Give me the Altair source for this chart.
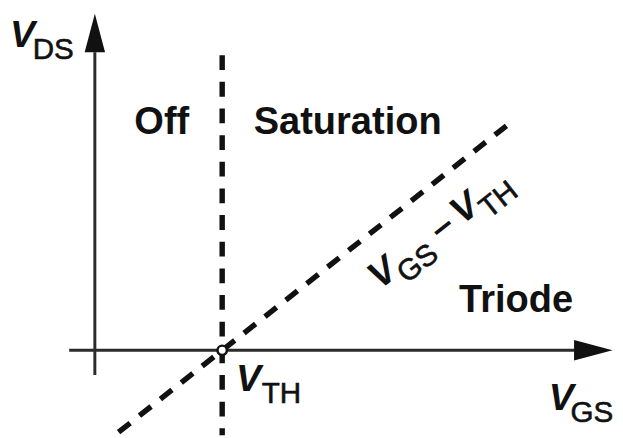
import math
import altair as alt
import pandas as pd

# ---- diagram values (origin = crossing of the V_GS / V_DS axes) ----
V_TH = 129            # threshold position on V_GS axis
SLOPE = 0.79          # V_DS = V_GS - V_TH boundary (drawn slope)
X_DOMAIN = [-88, 519]
Y_DOMAIN = [-78, 344]

axis_h = {"x": [-26], "x2": [486], "y": [0], "y2": [0]}
axis_v = {"x": [0], "x2": [0], "y": [302], "y2": [-25]}
vth_line = {"x": [V_TH], "x2": [V_TH], "y": [299], "y2": [-86]}
diag_x = [24, 417]

arrow_up = {"x": [0], "y": [321.5]}
arrow_right = {"x": [505], "y": [0]}

region_text = ["Off", "Saturation", "Triode"]
region_x = [40, 161, 369]
region_y = [219, 219, 39]

v_text = ["V", "V", "V"]
v_x = [-86, 143, 460]
v_y = [307, -41, -60]
sub_text = ["DS", "TH", "GS"]
sub_x = [-63, 169, 482]
sub_y = [295, -53, -73]

# rotated boundary label "V_GS – V_TH"
lab_origin = (289, 61)
lab_angle_deg = 38.3
lab_pieces = ["V", "GS", "–", "V", "TH"]
lab_t = [0, 25, 89, 106, 131]
lab_h = [0, 12, 0, 0, 12]
lab_kind = ["v", "sub", "dash", "v", "sub"]

FONT = "Liberation Sans"

diag_y = [SLOPE * (x - V_TH) for x in diag_x]

xs = alt.Scale(domain=X_DOMAIN, nice=False, zero=False)
ys = alt.Scale(domain=Y_DOMAIN, nice=False, zero=False)
X = lambda f: alt.X(f, type="quantitative", scale=xs, axis=None)
Y = lambda f: alt.Y(f, type="quantitative", scale=ys, axis=None)


def rule(d, dash=None, width=3, color="#2a2a2a"):
    kw = dict(strokeWidth=width, color=color, strokeCap="butt", clip=False)
    if dash:
        kw["strokeDash"] = dash
    return alt.Chart(pd.DataFrame(d)).mark_rule(**kw).encode(
        x=X("x"), x2="x2", y=Y("y"), y2="y2")


layers = []
layers.append(rule(axis_h))
layers.append(rule(axis_v))
layers.append(rule(vth_line, dash=[15, 12], width=5.5, color="#111"))
layers.append(rule({"x": [diag_x[0]], "x2": [diag_x[1]], "y": [diag_y[0]], "y2": [diag_y[1]]},
                   dash=[15, 12], width=5.5, color="#111"))

ARROW_UP = "M0,-1L0.53,1L-0.53,1Z"
ARROW_RIGHT = "M1,0L-1,-0.53L-1,0.53Z"
for d, shp in [(arrow_up, ARROW_UP), (arrow_right, ARROW_RIGHT)]:
    layers.append(alt.Chart(pd.DataFrame(d)).mark_point(
        shape=shp, size=1521, filled=True, color="#111", opacity=1, clip=False
    ).encode(x=X("x"), y=Y("y")))

layers.append(alt.Chart(pd.DataFrame({"x": [V_TH], "y": [0]})).mark_point(
    shape="circle", size=90, filled=True, fill="white", stroke="#111",
    strokeWidth=2.5, opacity=1).encode(x=X("x"), y=Y("y")))

layers.append(alt.Chart(pd.DataFrame({"x": region_x, "y": region_y, "t": region_text})).mark_text(
    font=FONT, fontSize=38.5, fontWeight="bold", align="left", baseline="alphabetic", color="#111"
).encode(x=X("x"), y=Y("y"), text="t"))

# rotated label pieces
a = math.radians(lab_angle_deg)
ux, uy = math.cos(a), math.sin(a)
nx, ny = math.sin(a), -math.cos(a)
rows = []
for txt, t, h, k in zip(lab_pieces, lab_t, lab_h, lab_kind):
    rows.append({"x": lab_origin[0] + t * ux + h * nx,
                 "y": lab_origin[1] + t * uy + h * ny,
                 "t": txt, "k": k})
rot = pd.DataFrame(rows)
ang = 360 - lab_angle_deg

vdf = pd.concat([pd.DataFrame({"x": v_x, "y": v_y, "t": v_text, "a": 0}),
                 rot[rot.k == "v"][["x", "y", "t"]].assign(a=ang)])
sdf = pd.concat([pd.DataFrame({"x": sub_x, "y": sub_y, "t": sub_text, "a": 0}),
                 rot[rot.k == "sub"][["x", "y", "t"]].assign(a=ang)])
ddf = rot[rot.k == "dash"][["x", "y", "t"]].assign(a=ang)

layers.append(alt.Chart(vdf).mark_text(
    font=FONT, fontSize=38, fontWeight="bold", fontStyle="italic", align="left",
    baseline="alphabetic", color="#111", clip=False
).encode(x=X("x"), y=Y("y"), text="t", angle=alt.Angle("a:Q", scale=None)))
layers.append(alt.Chart(sdf).mark_text(
    font=FONT, fontSize=30, fontWeight="normal", align="left",
    baseline="alphabetic", color="#111", clip=False, stroke="#111", strokeWidth=0.6
).encode(x=X("x"), y=Y("y"), text="t", angle=alt.Angle("a:Q", scale=None)))
layers.append(alt.Chart(ddf).mark_text(
    font=FONT, fontSize=38, fontWeight="bold", align="center",
    baseline="alphabetic", color="#111", clip=False
).encode(x=X("x"), y=Y("y"), text="t", angle=alt.Angle("a:Q", scale=None)))

chart = alt.layer(*layers).properties(
    width=607, height=422,
    autosize=alt.AutoSizeParams(type="none"),
    padding={"left": 0, "top": 0, "right": 8, "bottom": 8},
    background="white",
).configure_view(stroke=None)

chart.save("out.html", embed_options={"renderer": "svg", "actions": False})
